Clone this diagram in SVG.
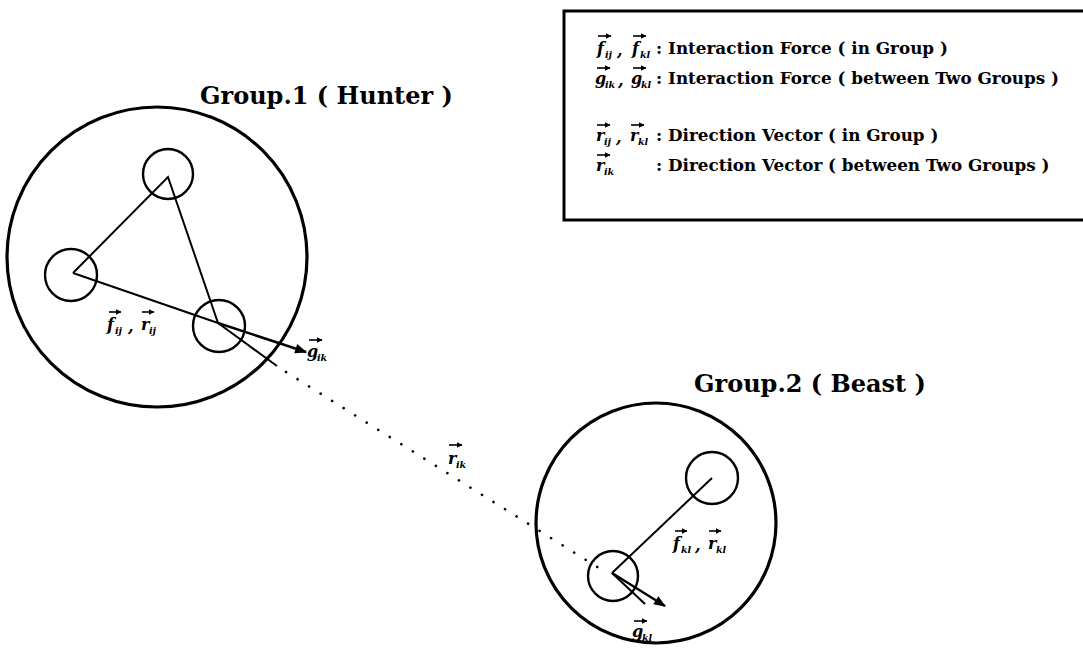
<svg xmlns="http://www.w3.org/2000/svg" width="1083" height="656" viewBox="0 0 1083 656">
<defs>
<style>
.big{fill:none;stroke:#000;stroke-width:3.2}
.sm{fill:none;stroke:#000;stroke-width:2.4}
.ln{fill:none;stroke:#000;stroke-width:2}
.dot{fill:none;stroke:#000;stroke-width:2.6;stroke-linecap:round;stroke-dasharray:0.1 13.5}
.title{font-family:"DejaVu Serif","Liberation Serif",serif;font-weight:bold;font-size:24px;fill:#000}
.leg{font-family:"DejaVu Serif","Liberation Serif",serif;font-weight:bold;font-size:16.8px;fill:#000}
.sym{font-family:"DejaVu Serif","Liberation Serif",serif;font-weight:bold;font-style:italic;font-size:16px;fill:#000}
.sub{font-family:"DejaVu Serif","Liberation Serif",serif;font-weight:bold;font-style:italic;font-size:9.5px;fill:#000}
.va{fill:none;stroke:#000;stroke-width:1.6;marker-end:url(#va)}
.arr{fill:none;stroke:#000;stroke-width:2.4;marker-end:url(#ah)}
</style>
<marker id="ah" viewBox="0 0 10 10" refX="9" refY="5" markerWidth="6" markerHeight="5" orient="auto" markerUnits="strokeWidth">
<path d="M0,1 L10,5 L0,9 z" fill="#000"/>
</marker>
<marker id="va" viewBox="0 0 10 10" refX="9" refY="5" markerWidth="3.5" markerHeight="3.5" orient="auto" markerUnits="strokeWidth">
<path d="M0,0 L10,5 L0,10 z" fill="#000"/>
</marker>
</defs>

<g id="legend">
<rect x="564" y="11" width="530" height="209" fill="none" stroke="#000" stroke-width="3"/>
<text class="sym" x="597" y="54">f</text><text class="sub" x="605" y="58">ij</text><text class="sym" x="617" y="56">,</text>
<text class="sym" x="632" y="54">f</text><text class="sub" x="640" y="58">kl</text>
<path class="va" d="M598,36 h13"/><path class="va" d="M633,36 h13"/>
<text class="leg" x="656" y="54">: Interaction Force ( in Group )</text>

<text class="sym" x="595" y="84">g</text><text class="sub" x="605" y="88">ik</text><text class="sym" x="618" y="86">,</text>
<text class="sym" x="631" y="84">g</text><text class="sub" x="641" y="88">kl</text>
<path class="va" d="M597,68 h13"/><path class="va" d="M633,68 h13"/>
<text class="leg" x="656" y="84">: Interaction Force ( between Two Groups )</text>

<text class="sym" x="596" y="141">r</text><text class="sub" x="604" y="145">ij</text><text class="sym" x="616" y="143">,</text>
<text class="sym" x="630" y="141">r</text><text class="sub" x="638" y="145">kl</text>
<path class="va" d="M597,125 h13"/><path class="va" d="M631,125 h13"/>
<text class="leg" x="656" y="141">: Direction Vector ( in Group )</text>

<text class="sym" x="596" y="171">r</text><text class="sub" x="604" y="175">ik</text>
<path class="va" d="M597,155 h13"/>
<text class="leg" x="656" y="171">: Direction Vector ( between Two Groups )</text>
</g>

<g id="group1">
<circle class="big" cx="157" cy="257" r="150"/>
<text class="title" x="200" y="104">Group.1 ( Hunter )</text>
</g>
<g id="hunter-top"><circle class="sm" cx="168" cy="174" r="25"/></g>
<g id="hunter-left"><circle class="sm" cx="71" cy="275" r="26"/></g>
<g id="hunter-i"><circle class="sm" cx="219" cy="326" r="26"/></g>

<g id="group2">
<circle class="big" cx="656" cy="523" r="120"/>
<text class="title" x="694" y="392">Group.2 ( Beast )</text>
</g>
<g id="beast-l"><circle class="sm" cx="712" cy="478" r="26"/></g>
<g id="beast-k"><circle class="sm" cx="613" cy="576" r="25"/></g>

<g id="connectors">
<path class="ln" d="M73,273 L168,177 L218,323 M73,273 L218,323"/>
<path class="arr" d="M218,323 L306,352"/>
<path class="ln" d="M218,323 L277,366"/>
<path class="dot" d="M286,372 L602,570"/>
<path class="ln" d="M612,573 L712,478"/>
<path class="ln" d="M612,573 L645,604"/>
<path class="arr" d="M612,573 L665,606"/>
</g>

<g id="labels">
<text class="sym" x="107" y="330">f</text><text class="sub" x="115" y="334">ij</text><text class="sym" x="128" y="332">,</text>
<text class="sym" x="141" y="330">r</text><text class="sub" x="149" y="334">ij</text>
<path class="va" d="M109,312 h12"/><path class="va" d="M142,312 h12"/>

<text class="sym" x="307" y="357">g</text><text class="sub" x="317" y="361">ik</text>
<path class="va" d="M309,340 h13"/>

<text class="sym" x="448" y="464">r</text><text class="sub" x="456" y="468">ik</text>
<path class="va" d="M449,445 h13"/>

<text class="sym" x="673" y="549">f</text><text class="sub" x="681" y="553">kl</text><text class="sym" x="695" y="551">,</text>
<text class="sym" x="708" y="549">r</text><text class="sub" x="716" y="553">kl</text>
<path class="va" d="M675,531 h12"/><path class="va" d="M709,531 h12"/>

<text class="sym" x="632" y="637">g</text><text class="sub" x="642" y="641">kl</text>
<path class="va" d="M634,621 h13"/>
</g>
</svg>
